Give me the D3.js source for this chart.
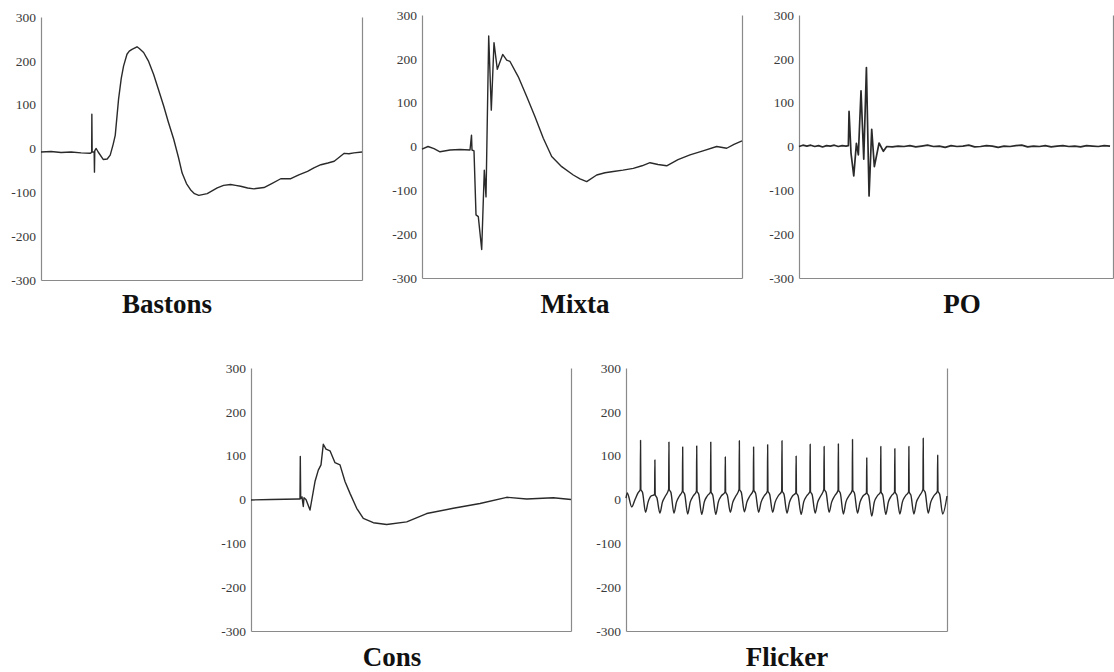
<!DOCTYPE html>
<html>
<head>
<meta charset="utf-8">
<script src="https://cdn.jsdelivr.net/npm/d3@7"></script>
<style>
  html, body { margin: 0; padding: 0; background: #fff; }
  svg { display: block; }
</style>
</head>
<body>
<svg id="chart" width="1114" height="672"></svg>
<script>
// ---------------- DATA ----------------
const yTicks = [300, 200, 100, 0, -100, -200, -300];
const titles = ["Bastons", "Mixta", "PO", "Cons", "Flicker"];

// Bastons: time (arbitrary units 0..320) and amplitude
const bastonsT = [0, 10, 20, 30, 40, 49, 50.5, 50.7, 51, 53, 53.3, 53.6, 55, 57, 62, 66, 69, 72, 74, 77.3, 80, 82.3, 85.7, 88, 90.7, 95.7, 98, 102.3, 107, 112.3, 117, 122.3, 127, 132.3, 137, 140.7, 145, 149, 153, 157.3, 165.7, 175.7, 182, 189, 194, 199, 206, 212.3, 222.3, 230, 239, 249, 257, 265.7, 272, 279, 286, 292.3, 302.3, 307, 312, 320];
const bastonsV = [-8, -7, -9, -8, -10, -11, -9, 78, -8, -8, -54, -5, 0, -8, -25, -24, -15, 10, 30, 112, 160, 188, 215, 222, 226, 232, 228, 219, 200, 169, 135, 97, 60, 21, -20, -56, -80, -94, -103, -107, -103, -90, -84, -82, -84, -86, -90, -92, -89, -80, -69, -69, -60, -52, -44, -37, -33, -29, -11, -12, -10, -8];

// Mixta
const mixtaT = [0, 6, 12, 18, 28, 38, 48, 49.5, 50, 52, 54, 56.3, 59.7, 62.3, 64, 66.7, 69.3, 72, 75.3, 80.7, 84.7, 88, 96.3, 104.7, 113, 121.3, 129.7, 139.7, 151.3, 158, 164.7, 174.7, 183, 191.3, 201, 211.3, 220, 228, 236, 244.7, 256, 268, 281, 294.7, 304.7, 312, 320];
const mixtaV = [-6, 0, -5, -12, -8, -7, -8, 26, -8, -10, -156, -160, -235, -54, -115, 252, 83, 237, 176, 210, 197, 194, 159, 114, 68, 19, -23, -46, -65, -74, -80, -65, -60, -57, -54, -50, -44, -37, -41, -44, -30, -19, -10, 0, -4, 5, 13];

// PO
const poT = [0, 4, 8, 12, 16, 20, 24, 28, 32, 36, 40, 44, 48, 50.3, 51, 53, 55.8, 58.5, 60.5, 63.2, 66, 68.7, 71.4, 74.1, 76.8, 81.6, 86, 89.4,
  95, 101, 107, 113, 119, 125, 131, 137, 143, 149, 155, 161, 167, 173, 179, 185, 191, 197, 203, 209, 215, 221, 227, 233, 239, 245, 251, 257, 263, 269, 275, 281, 287, 293, 299, 305, 311, 317, 320];
const poV = [0, 3, 1, 3, 0, 2, -1, 2, 1, 3, 0, 2, 1, 2, 80, -15, -67, 7, -19, 127, -29, 180, -113, 39, -46, 8, -11, 0,
  -1, 1, 0, 2, -1, 1, 3, 0, 1, -2, 2, 0, 1, 3, -1, 0, 2, 1, -2, 1, 0, 2, 3, -1, 1, 0, 2, -1, 1, 2, 0, 1, -1, 2, 1, 0, 2, 1];

// Cons
const consT = [0, 20, 47.3, 49, 49.3, 49.7, 51, 52.3, 53, 55, 59, 64, 67.3, 70, 72.3, 75, 79, 84, 89, 94, 99, 105.7, 112.3, 122.3, 135.7, 155.7, 175.7, 202.3, 229, 255.7, 275.7, 302.3, 320];
const consV = [-1, 0, 1, 1, 98, 2, 6, -16, 4, 0, -24, 41, 67, 79, 126, 115, 111, 84, 79, 41, 14, -20, -43, -53, -57, -51, -32, -20, -9, 5, 1, 4, 0];

// Flicker: spike times, spike tops, crest level under each spike, trough after each spike
const flickerSpikeT = [14.5, 28.8, 42.8, 56.5, 70.5, 84.5, 99, 113, 127.2, 141.2, 155.5, 169.6, 183.6, 197.5, 211.7, 225.8, 240, 254, 268, 282, 296.3, 310.7];
const flickerSpikeV = [135, 90, 131, 120, 122, 131, 97, 134, 120, 125, 134, 99, 126, 121, 127, 137, 95, 121, 116, 121, 140, 101];
const flickerCrestV = [23, 11, 23, 19, 19, 17, 17, 23, 21, 19, 19, 15, 18, 23, 21, 21, 15, 17, 17, 17, 23, 19];
const flickerTroughV = [-29, -31, -31, -33, -34, -34, -29, -28, -29, -29, -31, -34, -31, -29, -33, -31, -38, -34, -33, -33, -31, -33];
const flickerStartT = [0, 1.3, 5.7, 9, 12];
const flickerStartV = [3, 15, -17, 0, 15];
const flickerEndT = [320];
const flickerEndV = [8];
// shape of one cycle: [offset from spike, level relative to crest / trough]
const flickerAfterSpike = [2, -7];   // 2 units after spike: crest - 7
const flickerTroughOffset = 5;       // trough 5 units after spike
const flickerRise = [[7.5, -6], [10.5, 8]]; // absolute values on the way up

// ---------------- BUILD ----------------
function zip(T, V) { return T.map((t, i) => [t, V[i]]); }

const flickerPts = zip(flickerStartT, flickerStartV);
flickerSpikeT.forEach((s, i) => {
  flickerPts.push([s - 0.3, flickerCrestV[i]]);
  flickerPts.push([s, flickerSpikeV[i]]);
  flickerPts.push([s + 0.3, flickerCrestV[i]]);
  flickerPts.push([s + flickerAfterSpike[0], flickerCrestV[i] + flickerAfterSpike[1]]);
  flickerPts.push([s + flickerTroughOffset, flickerTroughV[i]]);
  if (flickerSpikeT[i + 1] !== undefined) {
    flickerRise.forEach(r => flickerPts.push([s + r[0], r[1]]));
  }
});
zip(flickerEndT, flickerEndV).forEach(p => flickerPts.push(p));

const series = [
  zip(bastonsT, bastonsV),
  zip(mixtaT, mixtaV),
  zip(poT, poV),
  zip(consT, consV),
  flickerPts
];

// panel layout (pixels)
const layout = [
  { x0: 41,  x1: 362,  y0: 17,  y1: 280, tx: 167, ty: 313, sw: 1.4 },
  { x0: 422, x1: 742,  y0: 15,  y1: 278, tx: 575, ty: 313, sw: 1.4 },
  { x0: 799, x1: 1113, y0: 15,  y1: 278, tx: 962, ty: 313, sw: 1.7 },
  { x0: 251, x1: 571,  y0: 368, y1: 631, tx: 392, ty: 666, sw: 1.4 },
  { x0: 626, x1: 947,  y0: 368, y1: 631, tx: 787, ty: 666, sw: 1.4 }
];

const svg = d3.select("#chart");
svg.append("rect").attr("width", 1114).attr("height", 672).attr("fill", "#fff");

layout.forEach((L, i) => {
  const x = d3.scaleLinear().domain([0, 320]).range([L.x0, L.x1]);
  const y = d3.scaleLinear().domain([-300, 300]).range([L.y1, L.y0]);
  const g = svg.append("g");

  // left axis with labels
  const ax = g.append("g")
    .attr("transform", `translate(${L.x0},0)`)
    .call(d3.axisLeft(y).tickValues(yTicks).tickSize(0).tickSizeOuter(0).tickPadding(5).tickFormat(d => String(d)));
  ax.select(".domain").attr("stroke", "#8a8a8a").attr("stroke-width", 1.2);
  ax.selectAll("text")
    .attr("font-family", "'Liberation Serif', 'Times New Roman', serif")
    .attr("font-size", 13.5)
    .attr("fill", "#3a3a3a");

  // bottom axis (no labels)
  const bx = g.append("g")
    .attr("transform", `translate(0,${L.y1})`)
    .call(d3.axisBottom(x).tickValues([]).tickSizeOuter(0));
  bx.select(".domain").attr("stroke", "#8a8a8a").attr("stroke-width", 1.2);

  // right axis line (no labels)
  const rx = g.append("g")
    .attr("transform", `translate(${L.x1},0)`)
    .call(d3.axisRight(y).tickValues([]).tickSizeOuter(0));
  rx.select(".domain").attr("stroke", "#8a8a8a").attr("stroke-width", 1.2);

  // trace
  const line = d3.line().x(d => x(d[0])).y(d => y(d[1])).curve(i === 4 ? d3.curveMonotoneX : d3.curveLinear);
  g.append("path")
    .datum(series[i])
    .attr("d", line)
    .attr("fill", "none")
    .attr("stroke", "#2a2a2a")
    .attr("stroke-width", L.sw)
    .attr("stroke-linejoin", "round");

  // title
  g.append("text")
    .attr("x", L.tx).attr("y", L.ty)
    .attr("text-anchor", "middle")
    .attr("font-family", "'Liberation Serif', 'Times New Roman', serif")
    .attr("font-weight", "bold")
    .attr("font-size", 27)
    .attr("fill", "#111")
    .text(titles[i]);
});
</script>
</body>
</html>
